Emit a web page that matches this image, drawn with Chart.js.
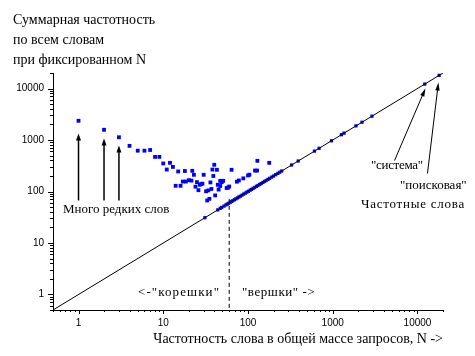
<!DOCTYPE html>
<html><head><meta charset="utf-8">
<script src="https://cdn.jsdelivr.net/npm/chart.js@4/dist/chart.umd.min.js"></script>
<style>html,body{margin:0;padding:0;background:#fff;}#wrap{width:475px;height:356px;}</style>
</head><body><div id="wrap"><canvas id="c" width="475" height="356"></canvas></div>
<script>
// Tick values / labels
const tickValues = [1, 10, 100, 1000, 10000];
const tickLabels = ['1', '10', '100', '1000', '10000'];
const axisMin = 0.5, axisMax = 20000;

// Scattered (rare-word) points
const rareX = [1, 2, 3, 4, 5, 6, 7, 8, 9, 10, 11, 12, 13, 14, 15, 16, 17, 18, 18.5, 20, 21.5, 22, 23, 24, 25, 26, 27, 28, 29, 30, 32, 33, 34, 35, 36, 37, 38, 39, 40, 41, 43, 44, 45, 47, 47, 49, 51, 56, 58, 60, 64, 74, 78, 88, 100, 104, 121, 128, 129, 178];
const rareY = [2360, 1580, 1130, 770, 620, 620, 640, 470, 470, 350, 267, 360, 300, 129, 245, 129, 156, 250, 156, 166, 163, 252, 211, 124, 152, 106, 135, 139, 142, 211, 101, 67, 105, 72, 150, 112, 267, 200, 330, 84, 264, 135, 109, 128, 161, 152, 161, 117, 119, 125, 264, 155, 164, 180, 205, 212, 255, 255, 394, 360];

// Points lying on the diagonal
const diagX = [31, 44, 47, 49, 52, 55, 57, 59, 62, 64, 66, 69, 72, 75, 78, 81, 85, 89, 93, 97, 101, 106, 110, 115, 120, 126, 131, 137, 143, 150, 157, 164, 172, 180, 190, 200, 212, 225, 237, 250, 327, 391, 609, 690, 966, 1266, 1358, 1880, 2213, 2900, 12190, 18000];
const diagY = [31, 44, 47, 49, 52, 55, 57, 59, 62, 64, 66, 69, 72, 75, 78, 81, 85, 89, 93, 97, 101, 106, 110, 115, 120, 126, 131, 137, 143, 150, 157, 164, 172, 180, 190, 200, 212, 225, 237, 250, 327, 391, 609, 690, 966, 1266, 1358, 1880, 2213, 2900, 12190, 18000];

// Reference line y = x and divider
const lineX = [0.5, 20000];
const lineY = [0.5, 20000];
const dividerX = [60, 60];
const dividerY = [72, 0.5];

// Arrow annotations (data coordinates: from -> to)
const arrowFromX = [1, 2, 3, 5360, 13120];
const arrowFromY = [67, 67, 67, 400, 224];
const arrowToX = [1, 2, 3, 12400, 17660];
const arrowToY = [1337, 1069, 782, 10000, 13090];

const pts = (xs, ys) => xs.map((x, i) => ({x: x, y: ys[i]}));

const serif = '"Liberation Serif", "Times New Roman", serif';
const sans = '"Liberation Sans", Arial, sans-serif';

const notes = [
  {text: 'Много редких слов', x: 63, y: 210, sp: 0},
  {text: '<-"корешки"', x: 138, y: 293, sp: 1.1},
  {text: '"вершки" ->', x: 242, y: 293, sp: 0.55},
  {text: '"система"', x: 371, y: 166, sp: -0.3},
  {text: '"поисковая"', x: 400, y: 186, sp: 0},
  {text: 'Частотные слова', x: 361, y: 205, sp: 0.75}
];

const extras = {
  id: 'extras',
  afterDraw(chart) {
    const ctx = chart.ctx;
    const xs = chart.scales.x, ys = chart.scales.y;
    const ca = chart.chartArea;
    ctx.save();
    ctx.strokeStyle = '#000';
    ctx.lineWidth = 1;
    // minor + major ticks
    for (let d = 0.1; d <= 10000; d *= 10) {
      for (let k = 1; k <= 9; k++) {
        const v = k * d;
        if (v < axisMin * 0.999 || v > axisMax * 1.001) continue;
        const len = k === 1 ? 4 : 2;
        const px = Math.round(xs.getPixelForValue(v)) + 0.5;
        ctx.beginPath(); ctx.moveTo(px, ca.bottom); ctx.lineTo(px, ca.bottom + len); ctx.stroke();
        const py = Math.round(ys.getPixelForValue(v)) + 0.5;
        ctx.beginPath(); ctx.moveTo(ca.left, py); ctx.lineTo(ca.left - len - 1, py); ctx.stroke();
      }
    }
    // arrows
    ctx.fillStyle = '#000';
    for (let i = 0; i < arrowFromX.length; i++) {
      const x1 = xs.getPixelForValue(arrowFromX[i]), y1 = ys.getPixelForValue(arrowFromY[i]);
      const x2 = xs.getPixelForValue(arrowToX[i]), y2 = ys.getPixelForValue(arrowToY[i]);
      const ang = Math.atan2(y2 - y1, x2 - x1);
      const hl = i < 3 ? 7 : 8, hw = i < 3 ? 2.5 : 2.2;
      ctx.lineWidth = i < 3 ? 1.5 : 1;
      ctx.beginPath(); ctx.moveTo(x1, y1);
      ctx.lineTo(x2 - Math.cos(ang) * hl * 0.6, y2 - Math.sin(ang) * hl * 0.6); ctx.stroke();
      ctx.beginPath();
      ctx.moveTo(x2, y2);
      ctx.lineTo(x2 - Math.cos(ang) * hl + Math.sin(ang) * hw, y2 - Math.sin(ang) * hl - Math.cos(ang) * hw);
      ctx.lineTo(x2 - Math.cos(ang) * hl - Math.sin(ang) * hw, y2 - Math.sin(ang) * hl + Math.cos(ang) * hw);
      ctx.closePath(); ctx.fill();
    }
    // text annotations
    ctx.font = '13px ' + serif;
    ctx.textBaseline = 'middle';
    ctx.textAlign = 'left';
    notes.forEach(n => {
      ctx.letterSpacing = n.sp + 'px';
      ctx.fillText(n.text, n.x, n.y);
    });
    ctx.letterSpacing = '0px';
    ctx.restore();
  }
};

const logAxis = (isX) => ({
  type: 'logarithmic',
  min: axisMin,
  max: axisMax,
  bounds: 'data',
  grid: {display: false, drawTicks: false},
  border: {display: true, color: '#000', width: 1},
  ticks: {
    autoSkip: false, maxRotation: 0, padding: isX ? 7 : 9, color: '#000',
    font: {family: sans, size: 10},
    callback: (v) => { const i = tickValues.indexOf(v); return i >= 0 ? tickLabels[i] : ''; }
  },
  afterBuildTicks: (s) => { s.ticks = tickValues.map(v => ({value: v})); },
  afterFit: (s) => { if (isX) s.height = 46; else s.width = 40; }
});

const xAxis = logAxis(true);
xAxis.title = {display: true, text: 'Частотность слова в общей массе запросов, N ->', align: 'end', color: '#000',
  font: {family: serif, size: 14}, padding: {top: 0, bottom: 8}};

new Chart(document.getElementById('c'), {
  type: 'scatter',
  data: {
    datasets: [
      {data: pts(lineX, lineY), showLine: true, borderColor: '#000', borderWidth: 1, pointRadius: 0},
      {data: pts(dividerX, dividerY), showLine: true, borderColor: '#000', borderWidth: 1, borderDash: [4, 3], pointRadius: 0},
      {data: pts(rareX, rareY), pointStyle: 'rect', pointRadius: 2.7, backgroundColor: '#0000ff', borderWidth: 0},
      {data: pts(diagX, diagY), pointStyle: 'rect', pointRadius: 2.3, backgroundColor: '#0000ff', borderWidth: 0}
    ]
  },
  options: {
    responsive: false, animation: false, devicePixelRatio: 1,
    layout: {padding: {left: 13, right: 32, top: 0, bottom: 0}},
    plugins: {
      legend: {display: false}, tooltip: {enabled: false},
      title: {display: true, align: 'start', color: '#000',
        text: ['Суммарная частотность', 'по всем словам', 'при фиксированном N'],
        font: {family: serif, size: 14, weight: 'normal', lineHeight: '20px'}, padding: {top: 10, bottom: 3}}
    },
    scales: {x: xAxis, y: logAxis(false)}
  },
  plugins: [extras]
});
</script></body></html>
